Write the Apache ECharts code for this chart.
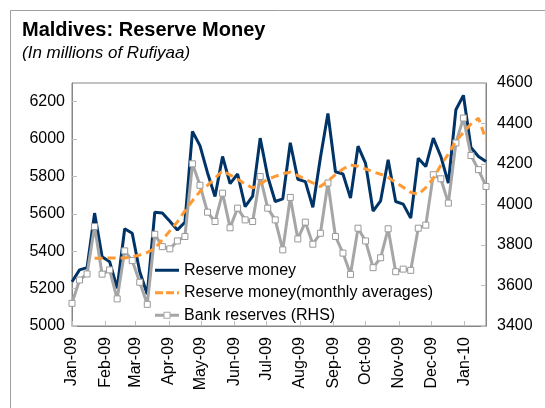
<!DOCTYPE html>
<html>
<head>
<meta charset="utf-8">
<script src="https://cdn.jsdelivr.net/npm/echarts@6/dist/echarts.min.js"></script>
<style>
  html, body { margin: 0; padding: 0; background: #fff; }
  #chart { width: 545px; height: 408px; }
</style>
</head>
<body>
<div id="chart"></div>
<script>
// Weekly observations (Thursdays), Jan 2009 - Jan 2010
const weekDates = [
  '2009-01-01','2009-01-08','2009-01-15','2009-01-22','2009-01-29',
  '2009-02-05','2009-02-12','2009-02-19','2009-02-26',
  '2009-03-05','2009-03-12','2009-03-19','2009-03-26',
  '2009-04-02','2009-04-09','2009-04-16','2009-04-23','2009-04-30',
  '2009-05-07','2009-05-14','2009-05-21','2009-05-28',
  '2009-06-04','2009-06-11','2009-06-18','2009-06-25',
  '2009-07-02','2009-07-09','2009-07-16','2009-07-23','2009-07-30',
  '2009-08-06','2009-08-13','2009-08-20','2009-08-27',
  '2009-09-03','2009-09-10','2009-09-17','2009-09-24',
  '2009-10-01','2009-10-08','2009-10-15','2009-10-22','2009-10-29',
  '2009-11-05','2009-11-12','2009-11-19','2009-11-26',
  '2009-12-03','2009-12-10','2009-12-17','2009-12-24','2009-12-31',
  '2010-01-07','2010-01-14','2010-01-21'
];

// Reserve money, millions of Rufiyaa (left axis)
const reserveMoney = [
  5237, 5300, 5312, 5604, 5371, 5344, 5202, 5520, 5496, 5290,
  5170, 5609, 5604, 5560, 5514, 5555, 6041, 5965, 5820, 5693,
  5907, 5762, 5813, 5639, 5695, 6005, 5800, 5666, 5680, 5980,
  5785, 5772, 5635, 5900, 6137, 5825, 5813, 5684, 5962, 5870,
  5615, 5670, 5889, 5666, 5652, 5577, 5898, 5853, 6005, 5907,
  5764, 6157, 6234, 5955, 5907, 5880
];

// Reserve money, monthly averages (left axis); first value is the 4th week
const reserveMoneyAvg = [
  null, null, null,
  5363, 5363, 5364, 5364, 5364, 5370, 5380, 5394, 5415, 5461,
  5509, 5557, 5616, 5670, 5720, 5752, 5790, 5830, 5808, 5785,
  5760, 5738, 5760, 5785, 5800, 5815, 5823, 5805, 5785, 5765,
  5746, 5775, 5810, 5840, 5862, 5855, 5840, 5825, 5812, 5795,
  5768, 5742, 5715, 5703, 5740, 5790, 5860, 5920, 5990, 6035,
  6080, 6112, 5996
];

// Bank reserves, millions of Rufiyaa (right axis)
const bankReserves = [
  3512, 3627, 3657, 3891, 3656, 3677, 3534, 3771, 3723, 3616,
  3507, 3853, 3792, 3781, 3820, 3842, 4201, 4095, 3962, 3916,
  4056, 3885, 3982, 3924, 3916, 4138, 3982, 3924, 3776, 4035,
  3830, 3913, 3804, 3858, 4106, 3842, 3760, 3655, 3883, 3820,
  3688, 3737, 3880, 3668, 3681, 3675, 3883, 3898, 4147, 4127,
  4007, 4304, 4427, 4242, 4172, 4089
];

// Month tick positions and their labels
const monthTicks = [
  '2009-01-01','2009-02-01','2009-03-01','2009-04-01','2009-05-01',
  '2009-06-01','2009-07-01','2009-08-01','2009-09-01','2009-10-01',
  '2009-11-01','2009-12-01','2010-01-01'
];
const monthLabels = [
  'Jan-09','Feb-09','Mar-09','Apr-09','May-09','Jun-09','Jul-09',
  'Aug-09','Sep-09','Oct-09','Nov-09','Dec-09','Jan-10'
];

const leftTicks = [5000, 5200, 5400, 5600, 5800, 6000, 6200];
const rightTicks = [3400, 3600, 3800, 4000, 4200, 4400, 4600];

// Dates become day numbers counted from the first observation
const DAY = 86400000;
const origin = Date.UTC(2009, 0, 1);
const toDay = s => {
  const [y, m, d] = s.split('-').map(Number);
  return Math.round((Date.UTC(y, m - 1, d) - origin) / DAY);
};
const monthDays = monthTicks.map(toDay);

const pairs = vals => weekDates
  .map((d, i) => [toDay(d), vals[i]])
  .filter(p => p[1] != null);

const FONT = "'Liberation Sans', Arial, sans-serif";
const FRAME = '#868686';
const TICK = '#BDBDBD';
const NAVY = '#003366';
const ORANGE = '#FF9933';
const GREY = '#A6A6A6';

// Legend keys: solid line, dashed line, line with hollow square marker
const ICON_SOLID = 'path://M0,4.5H24V7.5H0Z';
const ICON_DASHED = 'path://M0,4.5H8V7.5H0Z M11,4.5H19V7.5H11Z M22,4.5H24V7.5H22Z';
const ICON_MARKER = 'path://M0,4.5H9V7.5H0Z M15,4.5H24V7.5H15Z M8.5,2.5H15.5V9.5H8.5Z M9.5,3.5V8.5H14.5V3.5Z';

const chart = echarts.init(document.getElementById('chart'), null, { renderer: 'canvas' });

chart.setOption({
  animation: false,
  backgroundColor: '#fff',
  textStyle: { fontFamily: FONT, color: '#000' },
  title: {
    text: 'Maldives: Reserve Money',
    subtext: '(In millions of Rufiyaa)',
    left: 17,
    top: 14,
    itemGap: 3,
    textStyle: { fontFamily: FONT, fontSize: 20, fontWeight: 'bold', color: '#000', lineHeight: 22 },
    subtextStyle: { fontFamily: FONT, fontSize: 17, fontStyle: 'italic', color: '#000', lineHeight: 18 }
  },
  graphic: [{
    type: 'rect',
    silent: true,
    shape: { x: 10.5, y: 10.5, width: 700, height: 600 },
    style: { fill: 'none', stroke: '#A0A0A0', lineWidth: 1 }
  }],
  grid: {
    left: 72, right: 59, top: 83, bottom: 82,
    show: true, borderColor: FRAME, borderWidth: 1, backgroundColor: 'transparent'
  },
  legend: {
    orient: 'vertical',
    left: 150,
    top: 254,
    itemWidth: 24,
    itemHeight: 12,
    itemGap: 0,
    symbolKeepAspect: true,
    textStyle: { fontFamily: FONT, fontSize: 16, color: '#000', lineHeight: 22.5 },
    data: [
      { name: 'Reserve money', icon: ICON_SOLID, itemStyle: { color: NAVY, borderWidth: 0 } },
      { name: 'Reserve money(monthly averages)', icon: ICON_DASHED, itemStyle: { color: ORANGE, borderWidth: 0 } },
      { name: 'Bank reserves (RHS)', icon: ICON_MARKER, itemStyle: { color: GREY, borderWidth: 0 } }
    ]
  },
  xAxis: {
    type: 'value',
    min: toDay('2009-01-01'),
    max: toDay('2010-01-21'),
    axisLine: { show: true, onZero: false, lineStyle: { color: FRAME, width: 1 } },
    axisTick: { show: true, inside: true, length: 5, customValues: monthDays, lineStyle: { color: TICK } },
    splitLine: { show: false },
    axisLabel: {
      customValues: monthDays,
      rotate: 90,
      margin: 11,
      fontFamily: FONT,
      fontSize: 16,
      color: '#000',
      formatter: v => {
        const i = monthDays.indexOf(Math.round(v));
        return i >= 0 ? monthLabels[i] : '';
      }
    }
  },
  yAxis: [{
    type: 'value',
    min: leftTicks[0],
    max: 6300,
    interval: 200,
    axisLine: { show: true, lineStyle: { color: FRAME } },
    axisTick: { show: true, inside: true, length: 5, lineStyle: { color: TICK } },
    splitLine: { show: false },
    axisLabel: { margin: 7, fontFamily: FONT, fontSize: 16, color: '#000', showMaxLabel: false,
      formatter: v => leftTicks.includes(v) ? String(v) : '' }
  }, {
    type: 'value',
    min: rightTicks[0],
    max: rightTicks[rightTicks.length - 1],
    interval: 200,
    position: 'right',
    axisLine: { show: true, lineStyle: { color: FRAME } },
    axisTick: { show: true, inside: true, length: 5, lineStyle: { color: TICK } },
    splitLine: { show: false },
    axisLabel: { margin: 11, fontFamily: FONT, fontSize: 16, color: '#000',
      formatter: v => String(v) }
  }],
  series: [{
    name: 'Reserve money',
    type: 'line',
    yAxisIndex: 0,
    data: pairs(reserveMoney),
    symbol: 'none',
    lineStyle: { color: NAVY, width: 3 },
    itemStyle: { color: NAVY },
    z: 2
  }, {
    name: 'Bank reserves (RHS)',
    type: 'line',
    yAxisIndex: 1,
    data: pairs(bankReserves),
    symbol: 'rect',
    symbolSize: 6,
    showAllSymbol: true,
    lineStyle: { color: GREY, width: 3 },
    itemStyle: { color: '#FFFFFF', borderColor: '#999999', borderWidth: 1 },
    z: 3
  }, {
    name: 'Reserve money(monthly averages)',
    type: 'line',
    yAxisIndex: 0,
    data: pairs(reserveMoneyAvg),
    symbol: 'none',
    lineStyle: { color: ORANGE, width: 3, type: [8, 5] },
    itemStyle: { color: ORANGE },
    z: 4
  }]
});
</script>
</body>
</html>
